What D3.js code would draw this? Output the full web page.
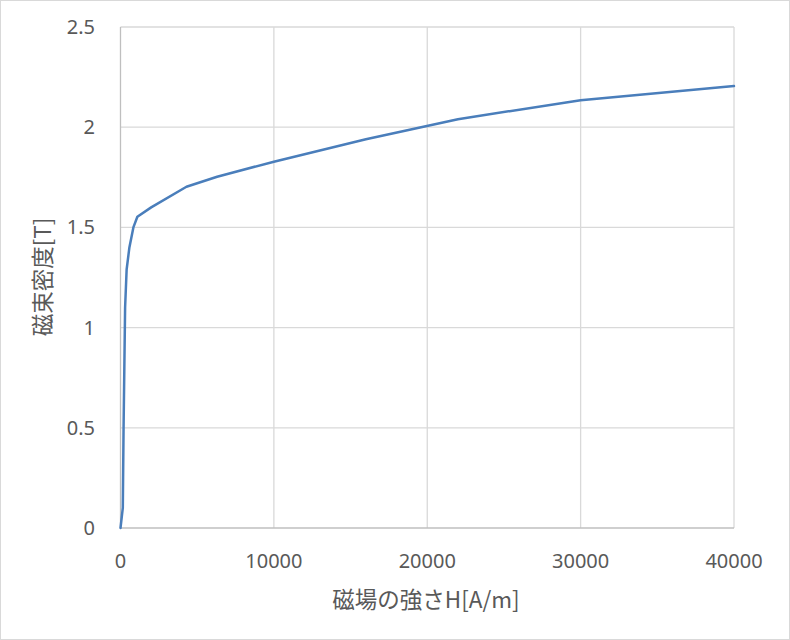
<!DOCTYPE html>
<html><head><meta charset="utf-8">
<script src="https://cdn.jsdelivr.net/npm/d3@7"></script>
<style>body{margin:0;background:#fff;}svg{display:block;}</style>
</head><body>
<svg id="c" width="790" height="640"></svg>
<script>
const hValues = [0, 150, 200, 300, 400, 580, 840, 1100, 2000, 4300, 6300, 10000, 16000, 22000, 30000, 40000];
const bValues = [0, 0.1, 0.5, 1.1, 1.29, 1.4, 1.5, 1.553, 1.6, 1.703, 1.753, 1.828, 1.94, 2.04, 2.135, 2.205];
const xTicks = [0, 10000, 20000, 30000, 40000];
const yTicks = [0, 0.5, 1, 1.5, 2, 2.5];
const xTitle = "磁場の強さH[A/m]";
const yTitle = "磁束密度[T]";

const svg = d3.select("#c");
svg.append("rect").attr("x",0.5).attr("y",0.5).attr("width",789).attr("height",639)
  .attr("fill","#fff").attr("stroke","#d9d9d9");

const x = d3.scaleLinear().domain([0,40000]).range([120.5,734]);
const y = d3.scaleLinear().domain([0,2.5]).range([528,27]);
const font = "'Noto Sans', 'Noto Sans CJK JP', sans-serif";

// gridlines
svg.append("g").selectAll("line").data(yTicks.filter(d=>d>0)).join("line")
  .attr("x1",x(0)).attr("x2",x(40000)).attr("y1",d=>y(d)).attr("y2",d=>y(d))
  .attr("stroke","#d9d9d9").attr("stroke-width",1.3);
svg.append("g").selectAll("line").data(xTicks.filter(d=>d>0)).join("line")
  .attr("x1",d=>x(d)).attr("x2",d=>x(d)).attr("y1",y(0)).attr("y2",y(2.5))
  .attr("stroke","#d9d9d9").attr("stroke-width",1.3);

// axes lines
svg.append("line").attr("x1",x(0)).attr("x2",x(0)).attr("y1",y(0)).attr("y2",y(2.5))
  .attr("stroke","#bfbfbf").attr("stroke-width",1.3);
svg.append("line").attr("x1",x(0)).attr("x2",x(40000)).attr("y1",y(0)).attr("y2",y(0))
  .attr("stroke","#bfbfbf").attr("stroke-width",1.3);

// tick labels
svg.append("g").selectAll("text").data(yTicks).join("text")
  .attr("x",95).attr("y",d=>y(d)).attr("dy","0.35em").attr("text-anchor","end")
  .attr("font-family",font).attr("font-size",20).attr("fill","#595959").text(d=>d);
svg.append("g").selectAll("text").data(xTicks).join("text")
  .attr("x",d=>x(d)).attr("y",561).attr("dy","0.35em").attr("text-anchor","middle")
  .attr("font-family",font).attr("font-size",20).attr("fill","#595959").text(d=>d);

// titles
svg.append("text").attr("x",426).attr("y",600).attr("dy","0.35em").attr("text-anchor","middle")
  .attr("font-family","'Noto Sans CJK JP', sans-serif").attr("font-size",22.5).attr("fill","#595959").text(xTitle);
svg.append("text").attr("transform","translate(43,277) rotate(-90)").attr("dy","0.35em").attr("text-anchor","middle")
  .attr("font-family","'Noto Sans CJK JP', sans-serif").attr("font-size",22.5).attr("fill","#595959").text(yTitle);

// line
const data = hValues.map((h,i)=>[h,bValues[i]]);
svg.append("path").datum(data)
  .attr("d", d3.line().x(d=>x(d[0])).y(d=>y(d[1])))
  .attr("fill","none").attr("stroke","#4a7ebb").attr("stroke-width",2.5)
  .attr("stroke-linejoin","round").attr("stroke-linecap","round");
</script>
</body></html>
